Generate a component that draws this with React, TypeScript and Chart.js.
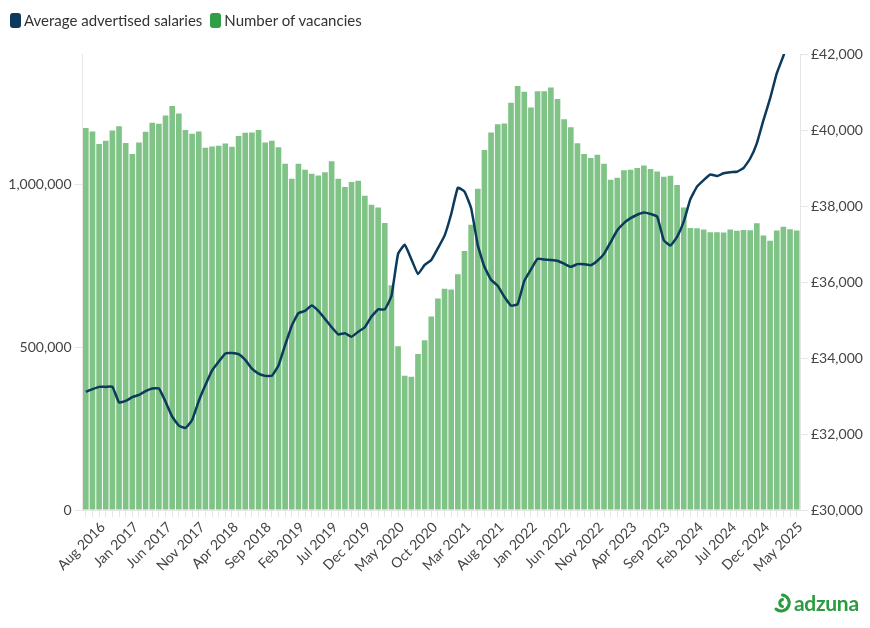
import React, { useEffect, useRef } from "react";
import { Chart, registerables } from "chart.js";

Chart.register(...registerables);

const START_YEAR = 2016;
const START_MONTH = 7; // August (0-based)
const MONTH_NAMES = ["Jan", "Feb", "Mar", "Apr", "May", "Jun", "Jul", "Aug", "Sep", "Oct", "Nov", "Dec"];

const vacancies = [
  1173000, 1162000, 1124000, 1134000, 1165000, 1178000, 1127000, 1093000, 1128000, 1161000,
  1189000, 1186000, 1211000, 1240000, 1217000, 1167000, 1155000, 1162000, 1112000, 1116000,
  1118000, 1125000, 1115000, 1148000, 1158000, 1159000, 1167000, 1128000, 1134000, 1114000,
  1063000, 1017000, 1063000, 1045000, 1032000, 1027000, 1037000, 1071000, 1017000, 992000,
  1007000, 1011000, 965000, 937000, 929000, 881000, 690000, 503000, 412000, 409000,
  479000, 521000, 594000, 649000, 679000, 677000, 724000, 795000, 876000, 986000,
  1105000, 1159000, 1184000, 1187000, 1250000, 1302000, 1284000, 1236000, 1286000, 1286000,
  1297000, 1262000, 1200000, 1175000, 1126000, 1093000, 1081000, 1091000, 1063000, 1014000,
  1020000, 1043000, 1045000, 1050000, 1058000, 1047000, 1039000, 1023000, 1026000, 998000,
  929000, 866000, 865000, 861000, 853000, 853000, 852000, 861000, 857000, 860000,
  859000, 880000, 843000, 827000, 858000, 870000, 862000, 858000,
];

const salaries = [
  33110, 33180, 33240, 33240, 33245, 32830, 32870, 32970, 33030, 33130,
  33200, 33200, 32850, 32455, 32220, 32160, 32370, 32870, 33290, 33670,
  33900, 34120, 34130, 34100, 33950, 33720, 33590, 33530, 33530, 33800,
  34340, 34850, 35180, 35240, 35380, 35240, 35030, 34810, 34620, 34650,
  34560, 34690, 34810, 35090, 35280, 35280, 35630, 36740, 36980, 36600,
  36210, 36450, 36580, 36890, 37220, 37790, 38480, 38380, 37940, 36970,
  36400, 36060, 35900, 35610, 35380, 35420, 36030, 36330, 36610, 36590,
  36580, 36560, 36480, 36400, 36470, 36470, 36440, 36560, 36740, 37050,
  37360, 37550, 37680, 37770, 37830, 37790, 37720, 37100, 36960, 37190,
  37590, 38180, 38510, 38680, 38830, 38790, 38860, 38890, 38900, 39000,
  39250, 39650, 40260, 40830, 41490, 41950, 42550, 43150,
];

const categories = vacancies.map((_, i) => {
  const m = START_MONTH + i;
  return `${MONTH_NAMES[m % 12]} ${START_YEAR + Math.floor(m / 12)}`;
});

const LABEL_EVERY = 5;
const vacancyTicks = [0, 500000, 1000000];
const VAC_MAX = 1400000;
const SAL_MIN = 30000;
const SAL_MAX = 42000;
const SAL_STEP = 2000;

const NAVY = "#0c3a5d";
const GREEN = "#2f9e44";
const BAR_FILL = "#80c387";
const AXIS_GREY = "#e6e6e6";
const FONT = "Lato, 'Noto Sans', sans-serif";

export default function App() {
  const ref = useRef<HTMLCanvasElement>(null);

  useEffect(() => {
    if (!ref.current) return;
    const chart = new Chart(ref.current, {
      data: {
        labels: categories,
        datasets: [
          {
            type: "line",
            label: "Average advertised salaries",
            data: salaries,
            yAxisID: "ySal",
            borderColor: NAVY,
            backgroundColor: NAVY,
            borderWidth: 2.5,
            pointRadius: 0,
            tension: 0.12,
            order: 0,
          },
          {
            type: "bar",
            label: "Number of vacancies",
            data: vacancies,
            yAxisID: "yVac",
            backgroundColor: BAR_FILL,
            barPercentage: 0.85,
            categoryPercentage: 1,
            order: 1,
          },
        ],
      } as any,
      options: {
        responsive: true,
        maintainAspectRatio: false,
        animation: false,
        layout: { padding: { left: 0, right: 0, top: 54, bottom: 0 } },
        plugins: {
          legend: { display: false },
          tooltip: { enabled: false },
        },
        scales: {
          x: {
            offset: true,
            grid: {
              display: true,
              drawOnChartArea: false,
              offset: false,
              color: AXIS_GREY,
              tickLength: 7,
            },
            border: { color: AXIS_GREY },
            ticks: {
              autoSkip: false,
              maxRotation: 45,
              minRotation: 45,
              padding: 2,
              labelOffset: 17,
              color: "#444",
              font: { family: FONT, size: 14 },
              callback: (_v: any, i: number) => (i % LABEL_EVERY === 0 ? categories[i] : ""),
            },
            afterFit: (s: any) => {
              s.height = 118;
            },
          },
          yVac: {
            type: "linear",
            position: "left",
            min: 0,
            max: VAC_MAX,
            grid: { drawOnChartArea: false, color: AXIS_GREY, tickLength: 8 },
            border: { color: AXIS_GREY },
            ticks: {
              color: "#444",
              padding: 3,
              font: { family: FONT, size: 14 },
              callback: (v: any) => Number(v).toLocaleString("en-GB"),
            },
            afterBuildTicks: (ax: any) => {
              ax.ticks = vacancyTicks.map((value) => ({ value }));
            },
            afterFit: (s: any) => {
              s.width = 82.5;
            },
          },
          ySal: {
            type: "linear",
            position: "right",
            min: SAL_MIN,
            max: SAL_MAX,
            grid: { drawOnChartArea: false, color: AXIS_GREY, tickLength: 8 },
            border: { color: AXIS_GREY },
            ticks: {
              stepSize: SAL_STEP,
              color: "#444",
              padding: 3,
              font: { family: FONT, size: 14 },
              callback: (v: any) => "£" + Number(v).toLocaleString("en-GB"),
            },
            afterFit: (s: any) => {
              s.width = 70;
            },
          },
        },
      } as any,
    });
    return () => chart.destroy();
  }, []);

  const legendItems = [
    { label: "Average advertised salaries", color: NAVY },
    { label: "Number of vacancies", color: GREEN },
  ];

  return (
    <div style={{ position: "absolute", left: 0, top: 0, width: 870, height: 628, background: "#fff" }}>
      <canvas ref={ref} />
      <div
        style={{
          position: "absolute",
          left: 10,
          top: 11,
          display: "flex",
          alignItems: "center",
          fontFamily: FONT,
          fontSize: 15,
          color: "#333",
          lineHeight: "18px",
        }}
      >
        {legendItems.map((it) => (
          <div key={it.label} style={{ display: "flex", alignItems: "center", marginRight: 8 }}>
            <span
              style={{
                display: "inline-block",
                width: 11,
                height: 15,
                borderRadius: 3,
                background: it.color,
                marginRight: 3,
              }}
            />
            <span>{it.label}</span>
          </div>
        ))}
      </div>
      <div
        style={{
          position: "absolute",
          left: 773,
          top: 590,
          display: "flex",
          alignItems: "center",
          color: "#2a9b3e",
          fontFamily: FONT,
          fontWeight: 700,
          fontSize: 21,
          letterSpacing: -0.3,
        }}
      >
        <svg width="19" height="22" viewBox="0 0 19 22" style={{ marginRight: 2 }}>
          <path d="M9.5 3 A8 8 0 1 1 3 17" stroke="#2a9b3e" strokeWidth="3" fill="none" strokeLinecap="round" />
          <path d="M9.5 7.5 A3.6 3.6 0 0 0 9.5 14.5" stroke="#2a9b3e" strokeWidth="3" fill="none" strokeLinecap="round" />
        </svg>
        <span>adzuna</span>
      </div>
    </div>
  );
}
